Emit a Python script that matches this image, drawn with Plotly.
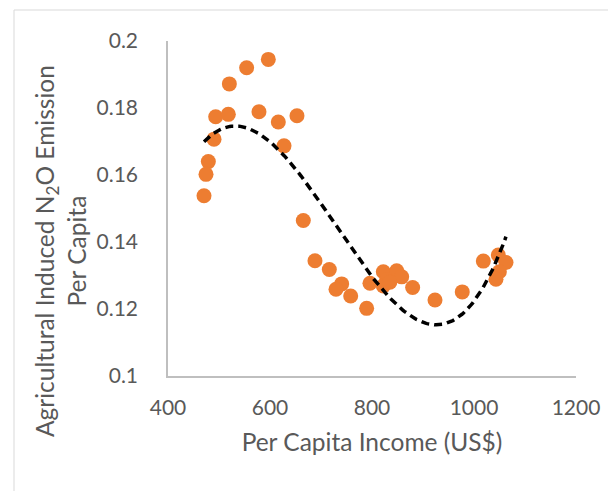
import numpy as np
import plotly.graph_objects as go

# Scatter data
income = [596.7, 554.2, 520.3, 493.5, 518.3, 578.4, 616.3, 652.9, 490.2, 627.5,
          479.1, 474.5, 470.6, 665.3, 688.2, 716.3, 740.5, 729.4, 758.2, 789.5,
          796.0, 822.2, 848.4, 858.2, 828.8, 822.2, 835.0, 879.7, 923.5, 977.0,
          1018.3, 1047.7, 1062.7, 1049.7, 1043.1]
emission = [0.1945, 0.1920, 0.1872, 0.1774, 0.1781, 0.1789, 0.1758, 0.1777, 0.1707, 0.1687,
            0.1640, 0.1602, 0.1538, 0.1464, 0.1344, 0.1318, 0.1275, 0.1259, 0.1239, 0.1202,
            0.1277, 0.1311, 0.1314, 0.1296, 0.1287, 0.1269, 0.1280, 0.1264, 0.1227, 0.1251,
            0.1343, 0.1361, 0.1339, 0.1311, 0.1289]

x_ticks = [400, 600, 800, 1000, 1200]
y_ticks = [0.1, 0.12, 0.14, 0.16, 0.18, 0.2]
y_tick_labels = ["0.1", "0.12", "0.14", "0.16", "0.18", "0.2"]

x_title = "Per Capita Income (US$)"
y_title = "Agricultural Induced N<sub>2</sub>O Emission<br>Per Capita"

# Polynomial (order 3) trendline, as Excel does
coef = np.polyfit(income, emission, 3)
tx = np.linspace(min(income), max(income), 200)
ty = np.polyval(coef, tx)

font_family = "Lato, 'Open Sans', sans-serif"
grey = "#595959"

fig = go.Figure()
fig.add_trace(go.Scatter(x=income, y=emission, mode="markers",
                         marker=dict(color="#ED7D31", size=15, line=dict(width=0)),
                         showlegend=False))
fig.add_trace(go.Scatter(x=tx, y=ty, mode="lines",
                         line=dict(color="black", width=3.5, dash="8px,5px"),
                         showlegend=False))

# page body has an 8px default margin; plot area should sit at x 168..576, y 41..376
fig.update_layout(
    width=616, height=491,
    margin=dict(l=160, r=48, t=33, b=123),
    paper_bgcolor="white", plot_bgcolor="white",
    font=dict(family=font_family, color=grey, size=21),
    xaxis=dict(range=[400, 1200], tickvals=x_ticks, showgrid=False, zeroline=False,
               showline=True, linecolor="#bfbfbf", linewidth=1.5, ticks="",
               automargin=False,
               ticklabelstandoff=12, tickfont=dict(size=21, color=grey),
               title=dict(text=x_title, font=dict(size=24.5, color=grey),
                          standoff=16)),
    yaxis=dict(range=[0.1, 0.2], tickvals=y_ticks, ticktext=y_tick_labels, showgrid=False,
               zeroline=False, showline=True, linecolor="#bfbfbf", linewidth=1.5, ticks="",
               automargin=False,
               ticklabelstandoff=24, tickfont=dict(size=21, color=grey)),
    annotations=[dict(text=y_title, textangle=-90, xref="paper", yref="paper",
                      x=(60 - 168) / 408, y=(376 - 251) / 335,
                      xanchor="center", yanchor="middle", showarrow=False,
                      font=dict(size=24.5, color=grey, family=font_family))],
    shapes=[dict(type="rect", xref="paper", yref="paper",
                 x0=(14 - 168) / 408, x1=1.3, y0=-0.6, y1=1 + (41 - 10) / 335,
                 line=dict(color="#d9d9d9", width=1), layer="below")],
)

fig.write_html("out.html")
